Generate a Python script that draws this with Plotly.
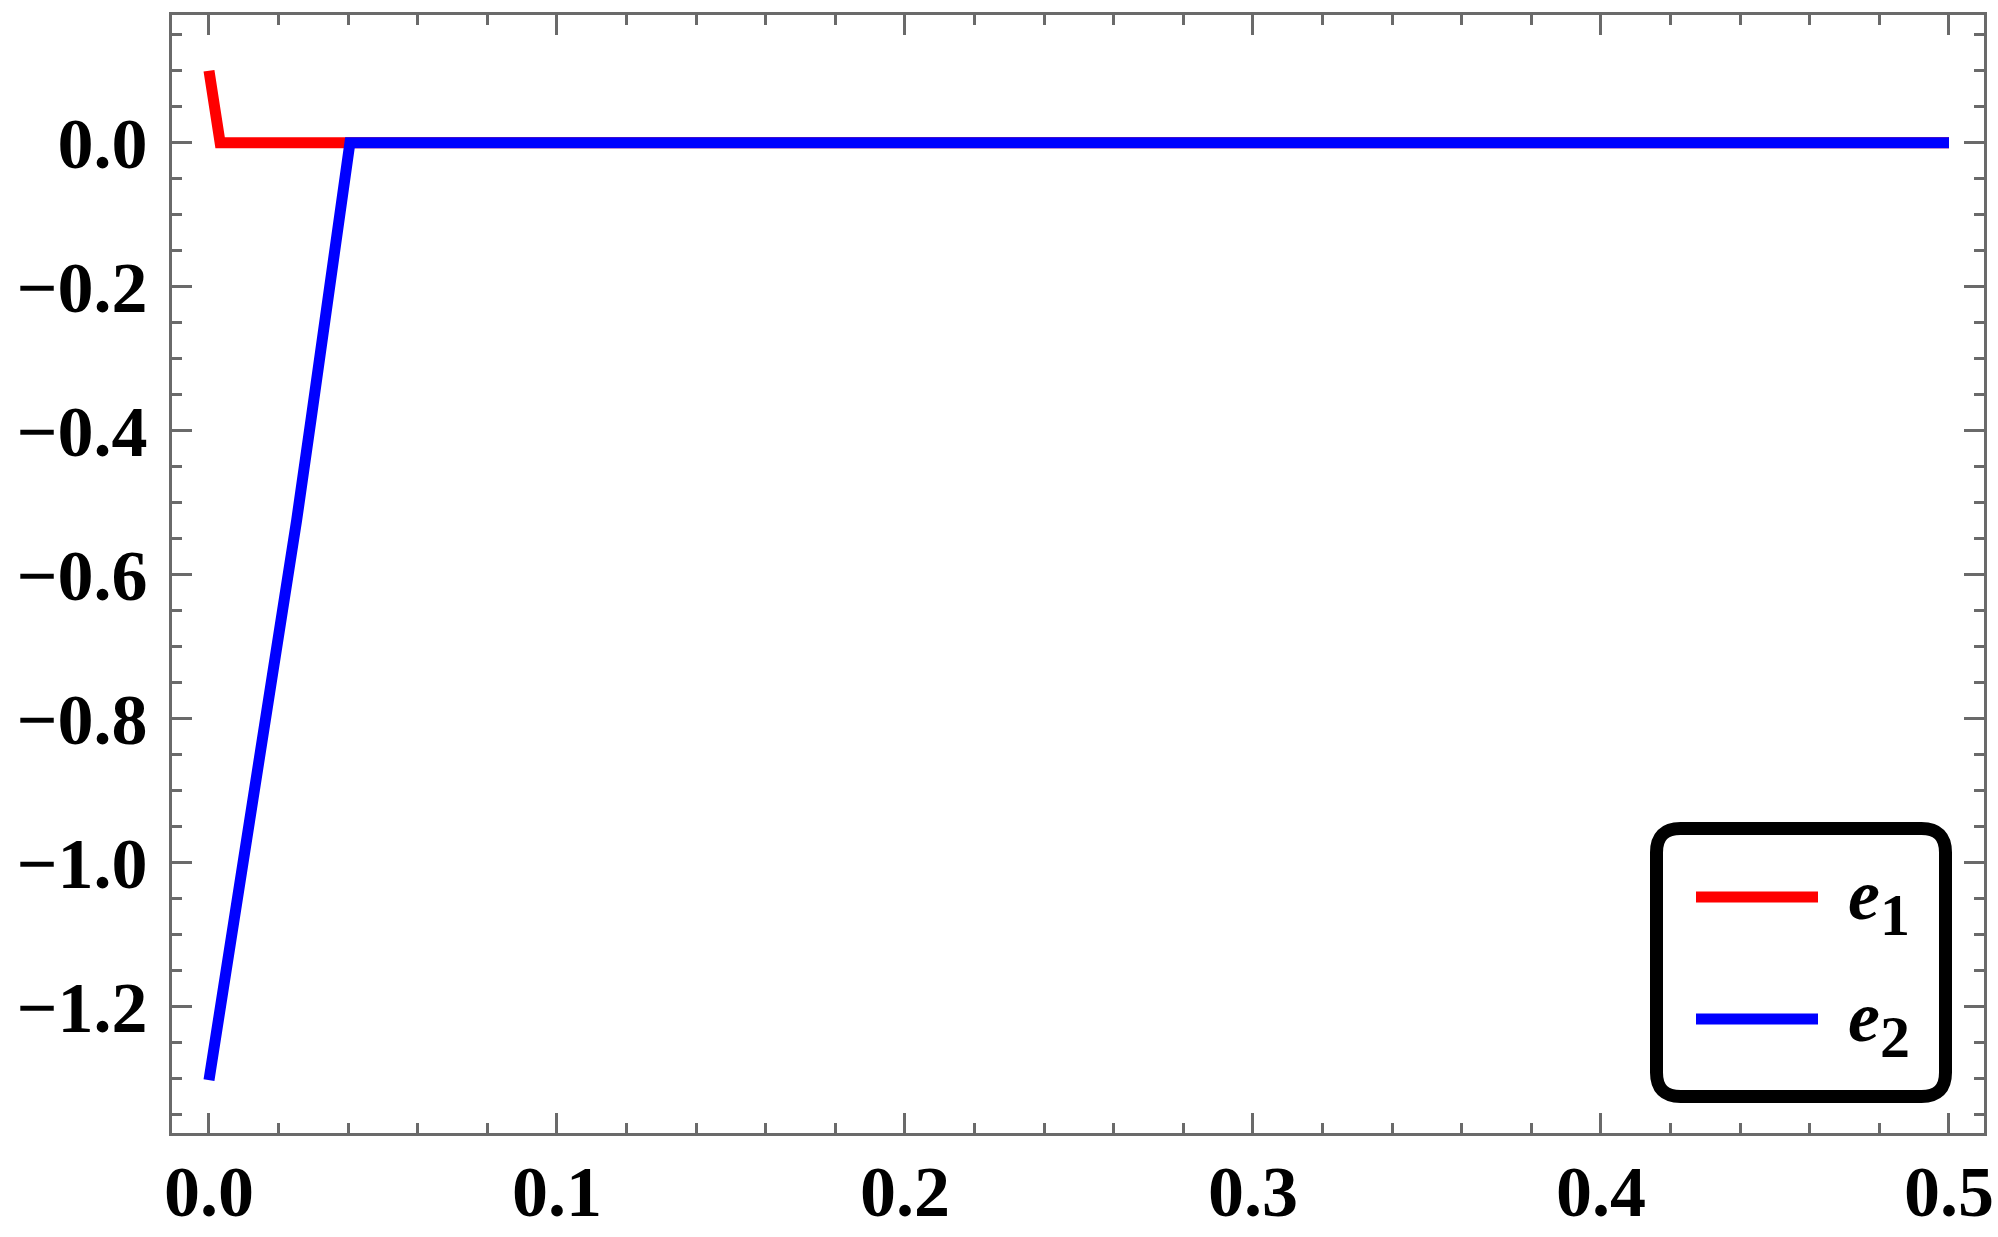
import plotly.graph_objects as go

# series data
e1_x = [0.0, 0.0032, 0.1, 0.2, 0.3, 0.4, 0.5]
e1_y = [0.1, 0.0, 0.0, 0.0, 0.0, 0.0, 0.0]

e2_x = [0.0, 0.0041, 0.0089, 0.0135, 0.0178, 0.0223, 0.0252, 0.0293, 0.0333, 0.0375, 0.0405, 0.1, 0.2, 0.3, 0.4, 0.5]
e2_y = [-1.302, -1.177, -1.038, -0.899, -0.760, -0.621, -0.524, -0.385, -0.246, -0.107, 0.0, 0.0, 0.0, 0.0, 0.0, 0.0]

legend_names = ['e', 'e']
legend_subs = ['1', '2']
legend_colors = ['#ff0000', '#0000ff']

W, H = 1998, 1237
L, R, T, B = 172, 1998 - 1984, 15, 1237 - 1133
FRAME = '#6a6a6a'
FONT = 'Liberation Serif'


def px(x):
    # picture px -> paper fraction
    return (x - L) / (W - L - R)


def py(y):
    return 1 - (y - T) / (H - T - B)


fig = go.Figure()

fig.add_trace(go.Scatter(x=e1_x, y=e1_y, mode='lines',
                         line=dict(color=legend_colors[0], width=11)))
fig.add_trace(go.Scatter(x=e2_x, y=e2_y, mode='lines',
                         line=dict(color=legend_colors[1], width=11)))

axis_common = dict(
    showline=True, linecolor=FRAME, linewidth=3, mirror='ticks',
    ticks='inside', tickcolor=FRAME, tickwidth=3, ticklen=20,
    showgrid=False, zeroline=False, automargin=False,
    ticklabeloverflow='allow',
    tickfont=dict(family=FONT, size=72, color='black', weight='bold'),
    tickformat='.1f',
)

fig.update_layout(
    width=W, height=H,
    margin=dict(l=L, r=R, t=T, b=B),
    plot_bgcolor='white', paper_bgcolor='white',
    showlegend=False,
    xaxis=dict(range=[-0.01063, 0.51006], tick0=0, dtick=0.1,
               minor=dict(ticks='inside', ticklen=10, tickcolor=FRAME, tickwidth=3, dtick=0.02, showgrid=False),
               ticklabelstandoff=-6, **axis_common),
    yaxis=dict(range=[-1.3754, 0.1774], tick0=0, dtick=0.2,
               minor=dict(ticks='inside', ticklen=10, tickcolor=FRAME, tickwidth=3, dtick=0.05, showgrid=False),
               ticklabelstandoff=7, **axis_common),
)

# rounded legend box
x0, x1, y0, y1, r = px(1656.5), px(1945.5), py(828.5), py(1096.5), 24
rx, ry = r / (W - L - R), r / (H - T - B)
path = (f'M {x0 + rx},{y0} L {x1 - rx},{y0} Q {x1},{y0} {x1},{y0 - ry} '
        f'L {x1},{y1 + ry} Q {x1},{y1} {x1 - rx},{y1} '
        f'L {x0 + rx},{y1} Q {x0},{y1} {x0},{y1 + ry} '
        f'L {x0},{y0 - ry} Q {x0},{y0} {x0 + rx},{y0} Z')
fig.add_shape(type='path', path=path, xref='paper', yref='paper',
              line=dict(color='black', width=13), fillcolor='white', layer='above')

for i, (name, sub, col) in enumerate(zip(legend_names, legend_subs, legend_colors)):
    yc = 897 + i * 122
    fig.add_shape(type='line', xref='paper', yref='paper',
                  x0=px(1696), x1=px(1818), y0=py(yc), y1=py(yc),
                  line=dict(color=col, width=11), layer='above')
    fig.add_annotation(x=px(1846), y=py(yc - 2), xref='paper', yref='paper',
                       text=f'<i><b>{name}</b></i>', showarrow=False,
                       xanchor='left', yanchor='middle',
                       font=dict(family=FONT, size=72, color='black'))
    fig.add_annotation(x=px(1878), y=py(yc + 18), xref='paper', yref='paper',
                       text=f'<b>{sub}</b>', showarrow=False,
                       xanchor='left', yanchor='middle',
                       font=dict(family=FONT, size=60, color='black'))

# drop the browser's default 8px body margin so the figure sits at the page corner
fig.write_html('out.html', config={'displayModeBar': False},
               post_script="document.body.style.margin='0';")
